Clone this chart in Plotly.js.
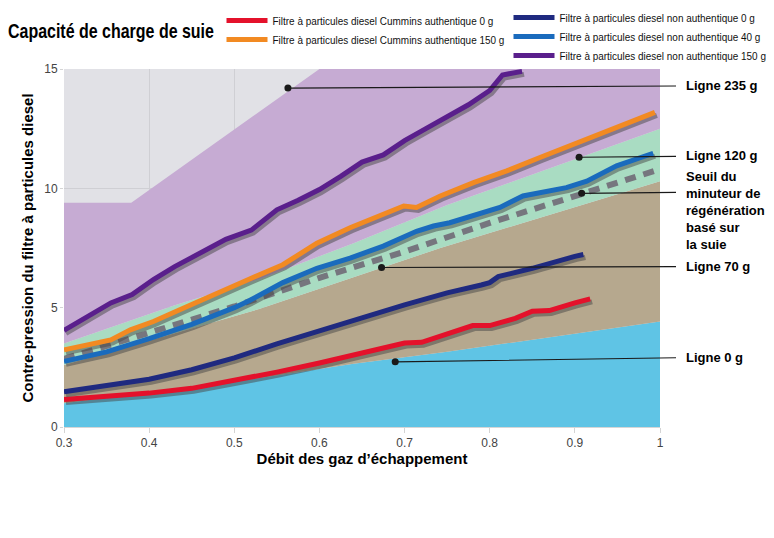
<!DOCTYPE html>
<html><head><meta charset="utf-8">
<script src="https://cdn.plot.ly/plotly-3.0.1.min.js"></script>
<style>
html,body{margin:0;padding:0;background:#fff}
#chart{width:774px;height:538px}
</style>
</head><body><div id="chart"></div><script>
// ---- background zones (upper boundaries) ----
const zoneBlueX = [0.3, 0.53, 0.64, 0.75, 1.0];
const zoneBlueY = [1.0, 2.05, 2.65, 3.15, 4.42];
const zoneTanX = [0.3, 0.53, 0.742, 1.0];
const zoneTanY = [2.6, 4.95, 7.5, 10.3];
const zoneGreenX = [0.3, 0.43, 0.53, 0.64, 0.75, 1.0];
const zoneGreenY = [3.5, 5.1, 6.2, 7.7, 9.3, 12.5];
const zonePurpleX = [0.3, 0.379, 0.6, 1.0];
const zonePurpleY = [9.4, 9.4, 15, 15];

// ---- series ----
const redX = [0.30,0.35,0.40,0.45,0.50,0.55,0.60,0.65,0.70,0.72,0.75,0.78,0.80,0.83,0.85,0.87,0.90,0.918];
const redY = [1.15,1.28,1.42,1.62,1.95,2.30,2.68,3.08,3.52,3.55,3.90,4.25,4.25,4.55,4.85,4.88,5.20,5.37];
const orangeX = [0.30,0.327,0.355,0.378,0.405,0.432,0.46,0.49,0.518,0.557,0.597,0.636,0.675,0.699,0.714,0.742,0.781,0.82,0.859,0.898,0.945,0.994];
const orangeY = [3.23,3.44,3.65,4.07,4.42,4.85,5.30,5.75,6.20,6.80,7.70,8.35,8.90,9.26,9.20,9.68,10.24,10.73,11.29,11.85,12.48,13.18];
const navyX = [0.30,0.35,0.40,0.45,0.50,0.55,0.60,0.65,0.70,0.75,0.79,0.80,0.81,0.85,0.90,0.91];
const navyY = [1.48,1.72,2.00,2.40,2.90,3.48,4.05,4.57,5.12,5.62,5.95,6.05,6.30,6.65,7.15,7.23];
const blueX = [0.30,0.35,0.40,0.45,0.50,0.518,0.557,0.597,0.636,0.675,0.714,0.734,0.753,0.781,0.812,0.839,0.865,0.89,0.914,0.949,0.992];
const blueY = [2.75,3.15,3.70,4.30,5.00,5.30,6.05,6.65,7.08,7.58,8.20,8.42,8.56,8.84,9.20,9.68,9.85,10.03,10.30,10.94,11.47];
const purpleX = [0.30,0.33,0.355,0.38,0.405,0.43,0.46,0.49,0.52,0.55,0.575,0.60,0.625,0.65,0.675,0.70,0.725,0.75,0.775,0.80,0.815,0.838];
const purpleY = [4.05,4.70,5.20,5.55,6.18,6.72,7.30,7.86,8.25,9.10,9.50,9.95,10.50,11.10,11.40,12.00,12.50,13.00,13.50,14.10,14.75,14.90];
const seuilX = [0.30,0.40,0.50,0.60,0.70,0.80,0.90,1.00];
const seuilY = [2.85,3.95,5.05,6.25,7.35,8.55,9.70,10.80];

const names = [
  'Filtre à particules diesel Cummins authentique 0 g',
  'Filtre à particules diesel Cummins authentique 150 g',
  'Filtre à particules diesel non authentique 0 g',
  'Filtre à particules diesel non authentique 40 g',
  'Filtre à particules diesel non authentique 150 g'
];

// ---- callouts ----
const calloutLabels = ['Ligne 235 g','Ligne 120 g','Seuil du<br>minuteur de<br>régénération<br>basé sur<br>la suie','Ligne 70 g','Ligne 0 g'];
const calloutDotX = [0.563, 0.905, 0.908, 0.673, 0.689];
const calloutDotY = [14.2, 11.3, 9.79, 6.68, 2.73];
const calloutEndY = [14.29, 11.34, 9.83, 6.72, 2.9];
const calloutTextY = [14.29, 11.38, 9.08, 6.72, 2.93];

const zone = (x, y, fill, color) => ({x, y, mode:'lines', line:{width:0, color}, fill, fillcolor:color, hoverinfo:'skip', showlegend:false});
const ln = (x, y, color, name, legend) => ({x, y, mode:'lines', name, legend, line:{color, width:5, shape:'linear'}, hoverinfo:'skip'});

const traces = [
  zone(zoneBlueX, zoneBlueY, 'tozeroy', '#5fc4e5'),
  zone(zoneTanX, zoneTanY, 'tonexty', '#b6a88e'),
  zone(zoneGreenX, zoneGreenY, 'tonexty', '#a9dcc2'),
  zone(zonePurpleX, zonePurpleY, 'tonexty', '#c6abd3'),
  ln(redX, redY, '#e4112b', names[0], 'legend'),
  ln(navyX, navyY, '#1f2a80', names[2], 'legend2'),
  {x: seuilX, y: seuilY, mode:'lines', line:{color:'#76767e', width:6, dash:'11px,8px'}, showlegend:false, hoverinfo:'skip'},
  ln(blueX, blueY, '#1a6bbd', names[3], 'legend2'),
  ln(orangeX, orangeY, '#f28a22', names[1], 'legend'),
  ln(purpleX, purpleY, '#5a1f8c', names[4], 'legend2')
];

const fam = 'Liberation Sans, Arial, sans-serif';
const annotations = [];
for (let i = 0; i < calloutLabels.length; i++) {
  annotations.push({x: calloutDotX[i], y: calloutDotY[i], xref:'x', yref:'y', axref:'x', ayref:'y',
    ax: 1.0188, ay: calloutEndY[i], text:' ', showarrow:true, arrowhead:6, arrowsize:1.6, arrowwidth:1.1,
    arrowcolor:'#1a1a1a', standoff:0, xanchor:'left', font:{size:2}});
  annotations.push({x: 1.0405, y: calloutTextY[i], xref:'paper', yref:'y', text: calloutLabels[i], showarrow:false,
    xanchor:'left', yanchor:'middle', align:'left', font:{size:13, weight:'bold', color:'#000'}});
}

const layout = {
  width: 774, height: 538,
  margin: {l: 64, r: 114, t: 69, b: 111, autoexpand: false},
  paper_bgcolor: '#ffffff', plot_bgcolor: '#e1e1e6',
  font: {family: fam, color: '#000'},
  title: {text: 'Capacité de charge de suie', x: 8/774, xref:'container', xanchor:'left', y: 1 - 31/538, yref:'container', yanchor:'middle',
          font: {family: fam, size: 20, weight: 'bold', color: '#000'}},
  xaxis: {range:[0.3, 1.0], tick0:0.3, dtick:0.1, showgrid:true, gridcolor:'#cfcfd4', gridwidth:1,
          ticks:'outside', ticklen:5, tickcolor:'#d4d4d4', tickfont:{size:12, color:'#444'},
          showline:true, linecolor:'#d6d6d6', zeroline:false, fixedrange:true,
          title:{text:'Débit des gaz d’échappement', font:{size:15, weight:'bold', color:'#000'}, standoff:4}},
  yaxis: {range:[0, 15], tick0:0, dtick:5, showgrid:true, gridcolor:'#cfcfd4', gridwidth:1,
          ticks:'outside', ticklen:3, tickcolor:'#d4d4d4', tickfont:{size:12, color:'#444'},
          showline:false, zeroline:false, fixedrange:true,
          title:{text:'Contre-pression du filtre à particules diesel', font:{size:15, weight:'bold', color:'#000'}, standoff:6}},
  legend: {x: (221.5-64)/596, xanchor:'left', y: (427-6)/358, yanchor:'top', bgcolor:'rgba(0,0,0,0)', borderwidth:0,
           font:{family: fam, size:11.5, color:'#111'}, orientation:'v', traceorder:'normal', itemwidth:41},
  legend2: {x: (508.5-64)/596, xanchor:'left', y: (427-3)/358, yanchor:'top', bgcolor:'rgba(0,0,0,0)', borderwidth:0,
           font:{family: fam, size:11.5, color:'#111'}, orientation:'v', traceorder:'normal', itemwidth:41},
  annotations,
  showlegend: true
};

function squeeze(el, s) {
  el.style.transformBox = 'fill-box';
  el.style.transformOrigin = '0 50%';
  el.style.transform = 'scaleX(' + s.toFixed(4) + ')';
}

Plotly.newPlot('chart', traces, layout, {displayModeBar:false, staticPlot:true}).then(gd => {
  const groups = gd.querySelectorAll('.scatterlayer .trace');
  [4,5,7,8,9].forEach(i => {
    const g = groups[i];
    if (!g) return;
    g.querySelectorAll('path.js-line').forEach(p => {
      p.style.filter = 'drop-shadow(2px 3px 0.6px rgba(70,70,70,0.5))';
    });
  });
  // condensed look for title and legend texts (measured widths -> horizontal scale)
  const t = gd.querySelector('.gtitle');
  if (t) { const w = t.getComputedTextLength(); if (w) squeeze(t, 206 / w); }
  const texts = Array.from(gd.querySelectorAll('text')).filter(e => names.includes(e.textContent));
  const ref = texts.find(e => e.textContent === names[0]);
  if (ref) {
    const w = ref.getComputedTextLength();
    if (w) texts.forEach(e => squeeze(e, 221 / w));
  }
});
</script></body></html>
